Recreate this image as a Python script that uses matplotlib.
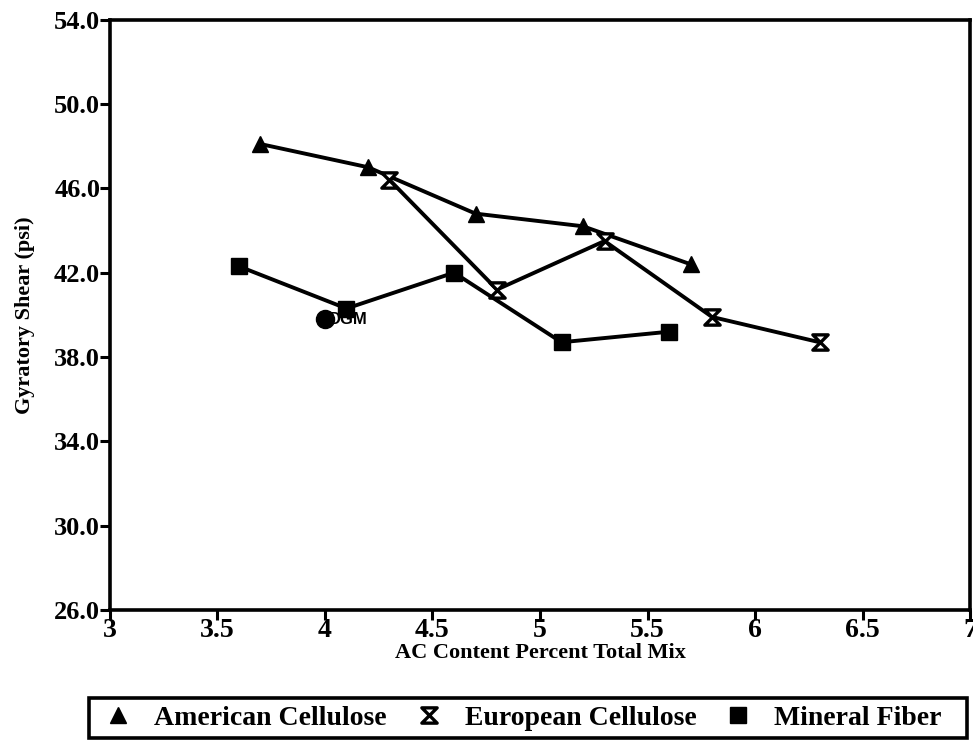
import matplotlib
matplotlib.use("Agg")
import matplotlib.pyplot as plt
from matplotlib.path import Path
from matplotlib.patches import Rectangle

american_x = [3.7, 4.2, 4.7, 5.2, 5.7]
american_y = [48.1, 47.0, 44.8, 44.2, 42.4]
european_x = [4.3, 4.8, 5.3, 5.8, 6.3]
european_y = [46.4, 41.2, 43.5, 39.9, 38.7]
mineral_x = [3.6, 4.1, 4.6, 5.1, 5.6]
mineral_y = [42.3, 40.3, 42.0, 38.7, 39.2]
dgm_x = [4.0]
dgm_y = [39.8]
x_ticks = [3, 3.5, 4, 4.5, 5, 5.5, 6, 6.5, 7]
x_tick_labels = ["3", "3.5", "4", "4.5", "5", "5.5", "6", "6.5", "7"]
y_ticks = [26, 30, 34, 38, 42, 46, 50, 54]
y_tick_labels = ["26.0", "30.0", "34.0", "38.0", "42.0", "46.0", "50.0", "54.0"]

serif = ["Liberation Serif", "DejaVu Serif"]
plt.rcParams['font.family'] = serif

hourglass = Path([(-1, 1), (1, 1), (-1, -1), (1, -1), (-1, 1)],
                 [Path.MOVETO, Path.LINETO, Path.LINETO, Path.LINETO, Path.CLOSEPOLY])

fig = plt.figure(figsize=(9.73, 7.55), dpi=100)
ax = fig.add_axes([0.113, 0.192, 0.884, 0.782])

lw = 2.8
l1, = ax.plot(american_x, american_y, color="black", lw=lw, marker="^", markersize=12,
              label="American Cellulose")
l2, = ax.plot(european_x, european_y, color="black", lw=lw, marker=hourglass, markersize=11,
              markerfacecolor="white", markeredgecolor="black", markeredgewidth=2.4,
              label="European Cellulose")
l3, = ax.plot(mineral_x, mineral_y, color="black", lw=lw, marker="s", markersize=12,
              label="Mineral Fiber")
ax.plot(dgm_x, dgm_y, linestyle="none", marker="o", color="black", markersize=13)
ax.annotate("DGM", (dgm_x[0], dgm_y[0]), xytext=(3, 0), textcoords="offset points",
            ha="left", va="center", fontsize=12, fontweight="bold",
            family=["Liberation Sans", "DejaVu Sans"])

ax.set_xlim(3, 7)
ax.set_ylim(26, 54)
ax.set_xticks(x_ticks)
ax.set_xticklabels(x_tick_labels, fontsize=20, fontweight="bold")
ax.set_yticks(y_ticks)
ax.set_yticklabels(y_tick_labels, fontsize=19, fontweight="bold")
ax.tick_params(axis="both", direction="out", length=7, width=2.2)
ax.tick_params(axis="x", pad=-1)
ax.tick_params(axis="y", pad=0)
for s in ax.spines.values():
    s.set_linewidth(2.6)

ax.set_xlabel("AC Content Percent Total Mix", fontsize=16, fontweight="bold", labelpad=0)
ax.set_ylabel("Gyratory Shear (psi)", fontsize=16, fontweight="bold", labelpad=14)

fig.patches.append(Rectangle((89/973, 1-738/755), (967-89)/973, 40/755,
                             transform=fig.transFigure, fill=False, lw=2.6, ec="black"))
fig.legend(handles=[l1, l2, l3], loc="center left", bbox_to_anchor=(107/973, 1-718/755), ncol=3,
           frameon=False, prop={"size": 20, "weight": "bold"}, handlelength=0.8,
           columnspacing=1.1, handletextpad=0.9, borderaxespad=0, borderpad=0)
for h in fig.legends[0].legend_handles:
    h.set_linestyle("none")

fig.savefig("out.png", dpi=100)
